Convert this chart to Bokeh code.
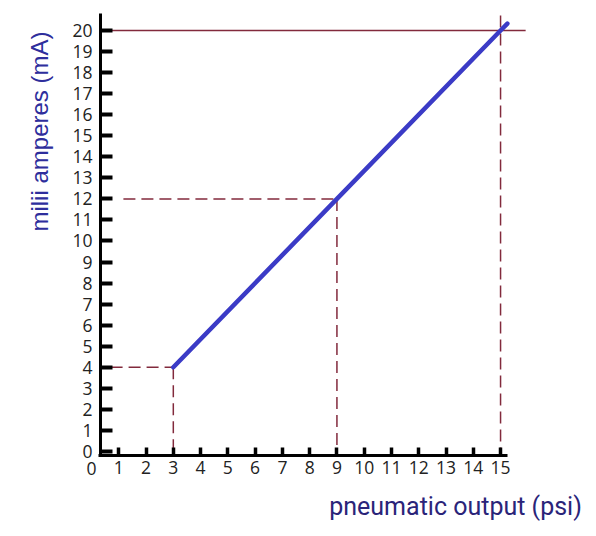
from math import pi
from bokeh.plotting import figure
from bokeh.models import LinearAxis, FixedTicker, Range1d
from bokeh.embed import file_html
from bokeh.resources import INLINE
from bokeh.core.properties import value

# ---- data ----
psi_points = [3, 9, 15]          # pneumatic output (psi)
ma_points = [4, 12, 20]          # current (mA)
line_psi = [3, 9, 15, 15.25]     # drawn transfer line (slightly overshoots 15 psi)
line_ma = [4, 12, 20, 20.33]
x_ticks = list(range(1, 16))
y_ticks = list(range(0, 21))
x_zero_label = ["0"]
x_title = "pneumatic output (psi)"
y_title = "milii amperes (mA)"

# ---- layout constants (positions/styles) ----
AX_X0 = 0.33      # where the vertical axis sits
AX_Y0 = -0.19     # where the horizontal axis sits
GUIDE_TOP = 20.71
TOP_LINE_END = 15.92
H_GUIDE_START = [0.70, 1.17]
MAROON = "#822a3c"
BLUE = "#3b3bc6"
TITLE_BLUE = "#2e2e9c"
TITLE_NAVY = "#2a2479"
TICK_FONT_SIZE = "17.5px"

p = figure(width=588, height=528, output_backend="svg", toolbar_location=None,
           x_range=Range1d(-3.337, 18.225), y_range=Range1d(-3.658, 21.425),
           x_axis_type=None, y_axis_type=None, min_border=0)
p.outline_line_color = None
p.background_fill_color = "white"
p.border_fill_color = "white"

xaxis = LinearAxis(ticker=FixedTicker(ticks=x_ticks), fixed_location=AX_Y0,
                   bounds=(AX_X0 - 0.055, 15.27))
yaxis = LinearAxis(ticker=FixedTicker(ticks=y_ticks), fixed_location=AX_X0,
                   bounds=(AX_Y0 - 0.07, 20.8))
for ax in (xaxis, yaxis):
    ax.axis_line_width = 3
    ax.axis_line_color = "black"
    ax.major_tick_out = 0
    ax.major_tick_line_color = "black"
    ax.minor_tick_line_color = None
    ax.major_label_text_font = "Open Sans"
    ax.major_label_text_font_size = TICK_FONT_SIZE
    ax.major_label_text_color = "#222222"
xaxis.major_tick_in = 8
xaxis.major_tick_line_width = 3.5
xaxis.major_label_standoff = 6
yaxis.major_tick_in = 12
yaxis.major_tick_line_width = 4
yaxis.major_label_standoff = 8
p.add_layout(xaxis, "below")
p.add_layout(yaxis, "left")

# guide lines
p.segment(x0=H_GUIDE_START, y0=ma_points[:2], x1=psi_points[:2], y1=ma_points[:2],
          line_color=MAROON, line_width=1.5, line_dash="12 6")
p.segment(x0=psi_points, y0=ma_points[:2] + [GUIDE_TOP], x1=psi_points,
          y1=[AX_Y0] * len(psi_points),
          line_color=MAROON, line_width=1.5, line_dash="12 6")
p.segment(x0=[AX_X0], y0=ma_points[2:], x1=[TOP_LINE_END], y1=ma_points[2:],
          line_color=MAROON, line_width=1.5)

# transfer line
p.line(line_psi, line_ma, line_width=4.5, line_color=BLUE, line_cap="round")

# "0" label on the x axis (left of the vertical axis)
p.text(x=[0], y=[-0.52], text=x_zero_label, text_font=value("Open Sans"),
       text_font_size=TICK_FONT_SIZE, text_color="#222222", text_align="center",
       text_baseline="top")

# axis titles
p.text(x=[-1.907], y=[15.2], text=[y_title], angle=pi / 2,
       text_font=value("Liberation Sans"), text_font_size="24px",
       text_color=TITLE_BLUE, text_align="center", text_baseline="middle")
p.text(x=[13.35], y=[-2.61], text=[x_title],
       text_font=value("Roboto"), text_font_size="25px",
       text_color=TITLE_NAVY, text_align="center", text_baseline="middle")

open("out.html", "w").write(file_html(p, INLINE))
